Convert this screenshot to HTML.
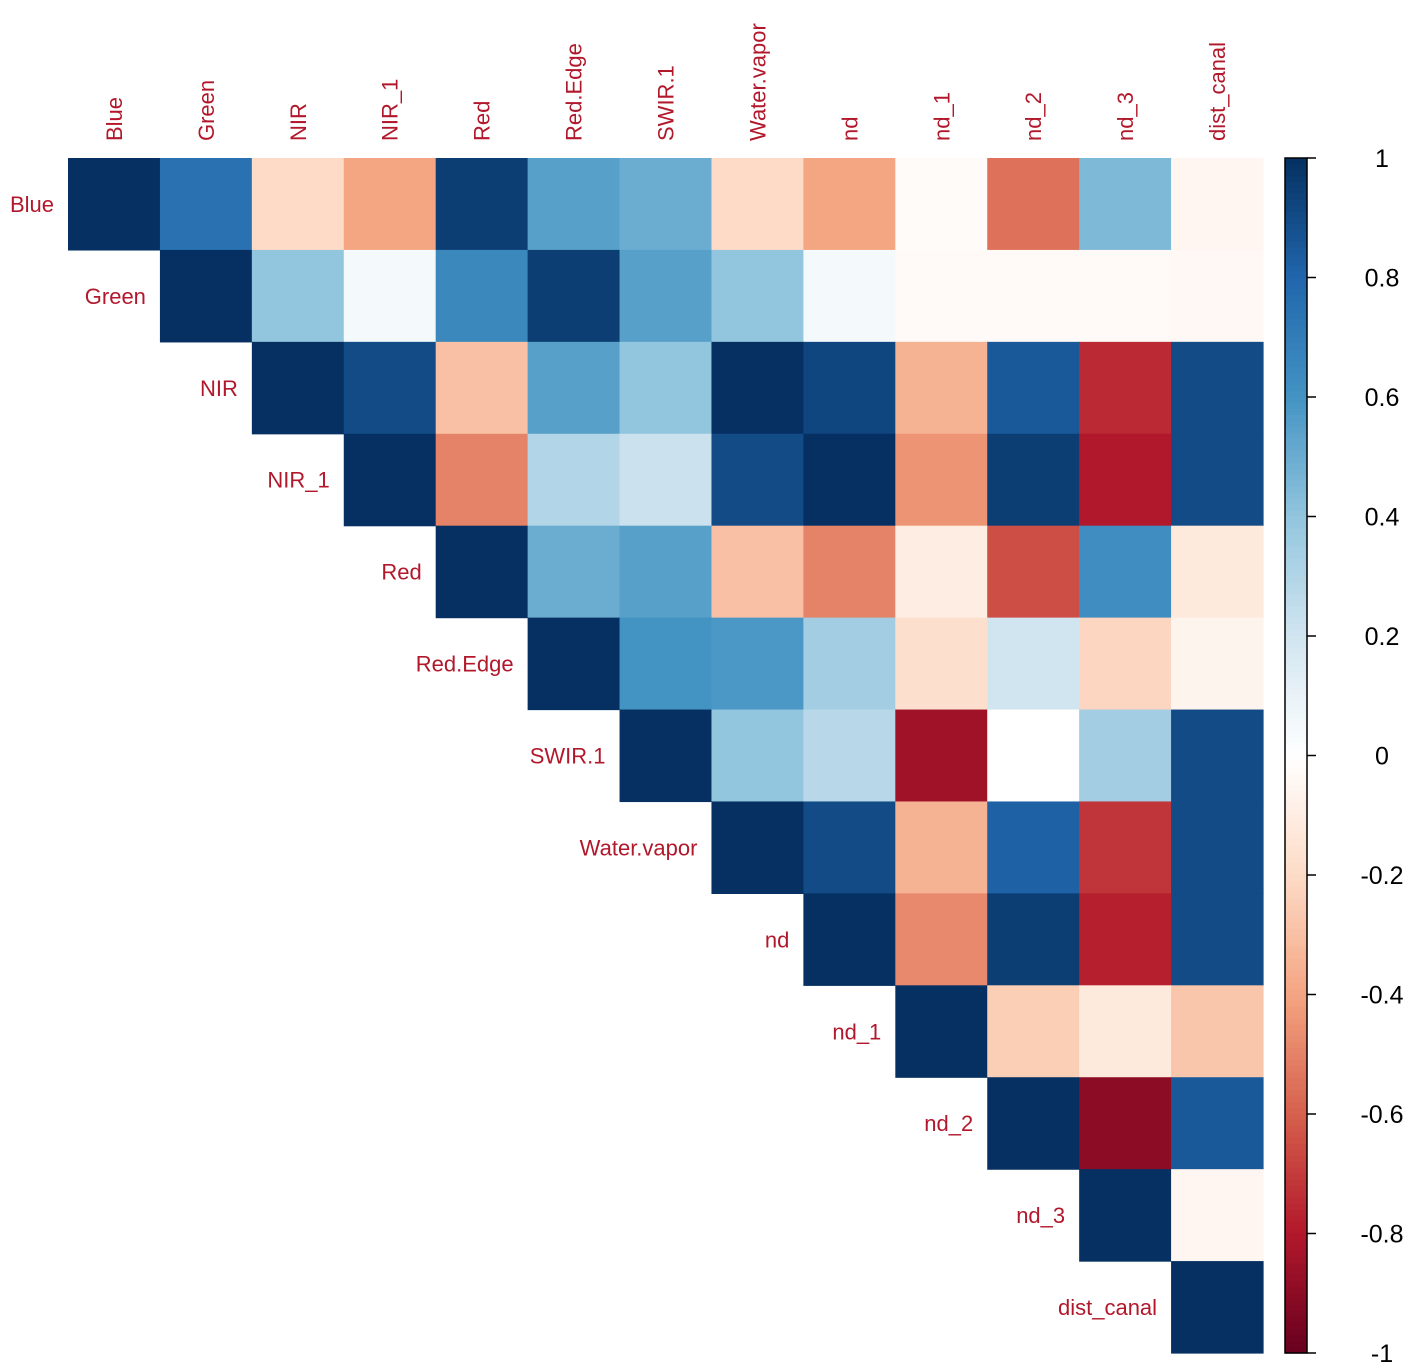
<!DOCTYPE html>
<html><head><meta charset="utf-8"><style>
html,body{margin:0;padding:0;background:#fff;}
svg{display:block;font-family:"Liberation Sans",Arial,sans-serif;}
</style></head><body>
<svg id="chart" width="1417" height="1370" viewBox="0 0 1417 1370" xmlns="http://www.w3.org/2000/svg"></svg>
<script>
const variables = ["Blue","Green","NIR","NIR_1","Red","Red.Edge","SWIR.1","Water.vapor","nd","nd_1","nd_2","nd_3","dist_canal"];
// upper-triangle rows (from diagonal to end)
const rowBlue = [1,0.75,-0.2,-0.4,0.95,0.55,0.5,-0.2,-0.4,-0.02,-0.55,0.45,-0.05];
const rowGreen = [1,0.4,0.05,0.65,0.95,0.55,0.4,0.05,-0.03,-0.03,-0.03,-0.04];
const rowNIR = [1,0.9,-0.3,0.55,0.4,1,0.92,-0.35,0.85,-0.75,0.9];
const rowNIR1 = [1,-0.5,0.3,0.22,0.9,1,-0.45,0.95,-0.8,0.9];
const rowRed = [1,0.5,0.55,-0.3,-0.5,-0.1,-0.65,0.62,-0.12];
const rowRedEdge = [1,0.6,0.58,0.35,-0.18,0.2,-0.22,-0.06];
const rowSWIR1 = [1,0.4,0.28,-0.85,0.0,0.35,0.9];
const rowWaterVapor = [1,0.9,-0.35,0.82,-0.72,0.9];
const rowNd = [1,0.95,-0.48,0.95,-0.78,0.9].slice(0,1).concat([-0.48,0.95,-0.78,0.9]);
const rowNd1 = [1,-0.25,-0.12,-0.28];
const rowNd2 = [1,-0.9,0.85];
const rowNd3 = [1,-0.05];
const rowDist = [1];
const rows = [rowBlue,rowGreen,rowNIR,rowNIR1,rowRed,rowRedEdge,rowSWIR1,rowWaterVapor,rowNd,rowNd1,rowNd2,rowNd3,rowDist];
const colorbarTicks = [1,0.8,0.6,0.4,0.2,0,-0.2,-0.4,-0.6,-0.8,-1];

const palette = ["#67001F","#B2182B","#D6604D","#F4A582","#FDDBC7","#FFFFFF","#D1E5F0","#92C5DE","#4393C3","#2166AC","#053061"];
function hex(h){return [1,3,5].map(i=>parseInt(h.substr(i,2),16));}
function color(v){
  const t=(Math.max(-1,Math.min(1,v))+1)/2*(palette.length-1);
  const i=Math.min(Math.floor(t),palette.length-2), f=t-i;
  const a=hex(palette[i]), b=hex(palette[i+1]);
  return "rgb("+a.map((c,k)=>Math.round(c+(b[k]-c)*f)).join(",")+")";
}
const NS="http://www.w3.org/2000/svg";
const svg=document.getElementById("chart");
const x0=68,y0=158,cell=(1263-68)/13;
const xPos=i=>x0+i*cell, yPos=i=>y0+i*cell;
function el(tag,attrs){const e=document.createElementNS(NS,tag);for(const k in attrs)e.setAttribute(k,attrs[k]);svg.appendChild(e);return e;}

rows.forEach((row,r)=>{
  row.forEach((v,k)=>{
    const c=r+k;
    const rect=el("rect",{x:xPos(c),y:yPos(r),width:cell+0.6,height:cell+0.6,fill:color(v)});
    
    
  });
});
variables.forEach((name,i)=>{
  const t=el("text",{x:xPos(i)-14,y:yPos(i)+cell/2+8,"text-anchor":"end","font-size":22,fill:"#B2182B"});
  t.textContent=name;
  
  
  const cx=xPos(i)+cell/2+8;
  const u=el("text",{x:cx,y:141,transform:"rotate(-90 "+cx+" 141)","font-size":22,fill:"#B2182B"});
  u.textContent=name;
  
  
});
// colorbar
const cbX=1285,cbW=22,cbTop=158,cbBot=1353;
const N=200;
for(let i=0;i<N;i++){
  const v=1-2*(i+0.5)/N;
  const r=el("rect",{x:cbX,y:cbTop+(cbBot-cbTop)*i/N,width:cbW,height:(cbBot-cbTop)/N+0.6,fill:color(v)});
  
  
}
const border=el("rect",{x:cbX,y:cbTop,width:cbW,height:cbBot-cbTop,fill:"none",stroke:"#000","stroke-width":1.5});


const cbY=v=>cbTop+(1-v)/2*(cbBot-cbTop);
colorbarTicks.forEach(v=>{
  const y=cbY(v);
  const tk=el("line",{x1:cbX+cbW,x2:cbX+cbW+9,y1:y,y2:y,stroke:"#000","stroke-width":1.5});
  
  
  const t=el("text",{x:1382,y:y+9,"text-anchor":"middle","font-size":25,fill:"#000"});
  t.textContent=String(v);
  
  
});
</script>
</body></html>
